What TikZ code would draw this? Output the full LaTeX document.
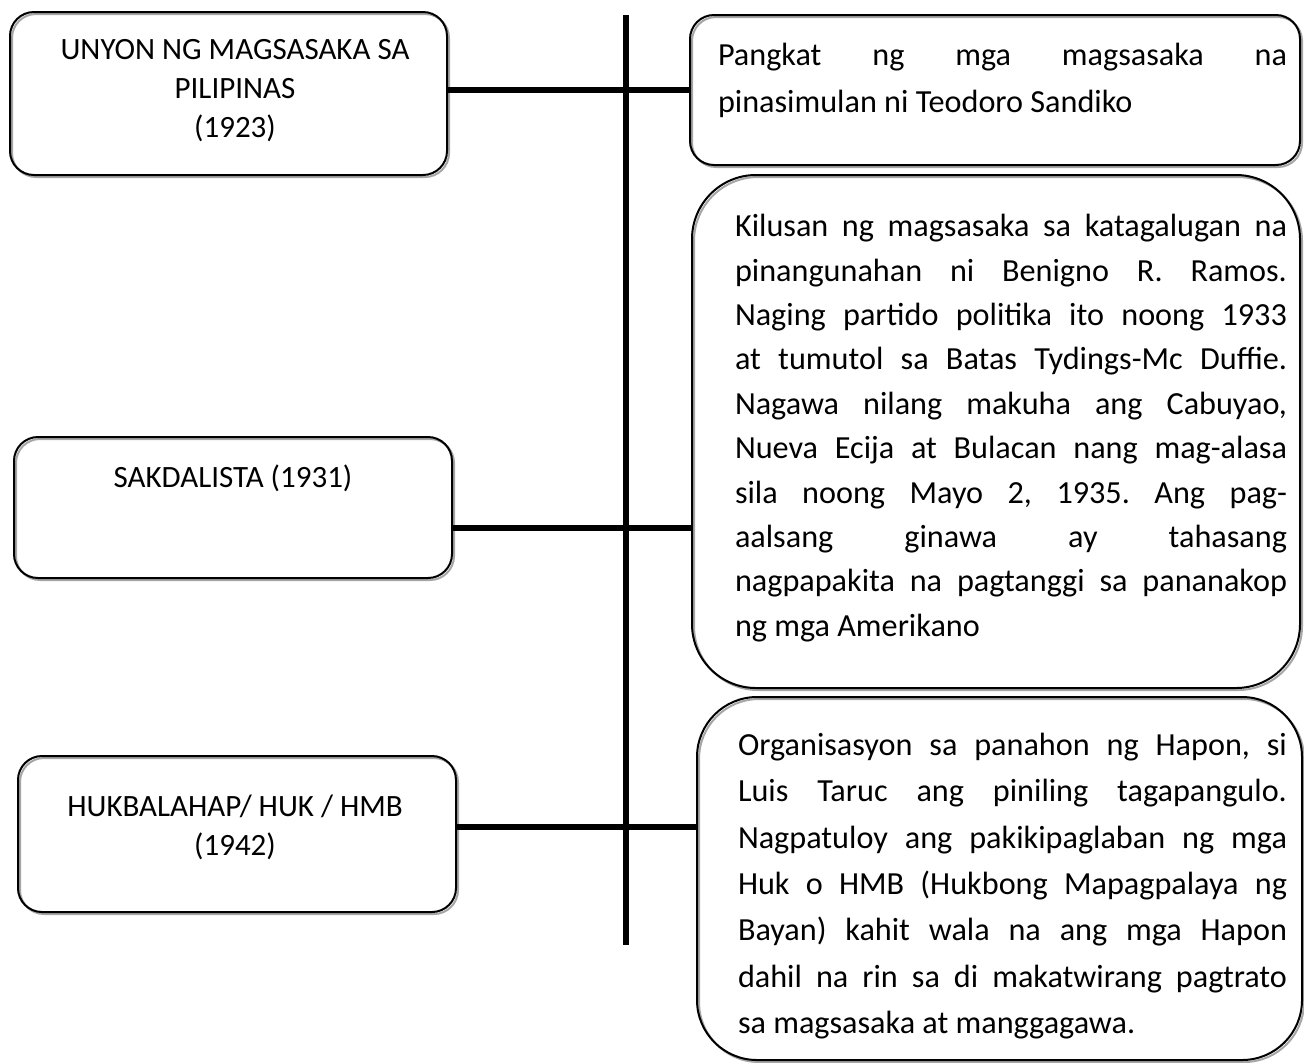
\documentclass[tikz,border=0pt]{standalone}
\usepackage{fontspec}
\setmainfont{Carlito}
\usetikzlibrary{shadows, positioning}

\begin{document}
\frenchspacing
\begin{tikzpicture}[x=0.5pt,y=-0.5pt,
		event/.style={draw, line width=1pt, rounded corners=12pt, minimum width=#1, inner sep=0pt,
			drop shadow={shadow xshift=1pt, shadow yshift=-1pt, fill=none, draw=black!35, line width=1pt, opacity=1}},
		head/.style={inner sep=0pt, align=center, font=\fontsize{15.5}{19.5}\selectfont},
		desc/.style={inner sep=0pt, align=justify, text width=#1, font=\fontsize{16.1}{23.2}\selectfont},
		link/.style={line width=3pt}]
			\useasboundingbox (0,0) rectangle (1304,1062);
			% left boxes
			\node[event=218.5pt, minimum height=81.5pt] (unyon) at (228.5,93.5) {};
			\node[event=219pt, minimum height=70.5pt] (sakdal) at (233,507.5) {};
			\node[event=219pt, minimum height=78pt] (huk) at (237,834) {};
			\node[head] (unyon-t) at (235,91) {UNYON NG MAGSASAKA SA\\PILIPINAS\\(1923)};
			\node[head] (sakdal-t) at (233,478) {SAKDALISTA (1931)};
			\node[head] (huk-t) at (235,827) {HUKBALAHAP/ HUK / HMB\\(1942)};
			% right boxes
			\node[event=305pt, minimum height=75pt] (d1) at (995,90) {};
			\node[event=304pt, minimum height=256.5pt, rounded corners=32pt] (d2) at (996,431.5) {};
			\node[event=302.5pt, minimum height=181.5pt, rounded corners=30pt] (d3) at (999.5,878.5) {};
			\node[desc=284.5pt, font=\fontsize{16.1}{23.5}\selectfont] (d1-t) at (1002.5,80)
				{Pangkat ng mga magsasaka na\linebreak pinasimulan ni Teodoro Sandiko};
			\node[desc=276pt, font=\fontsize{16.1}{22.2}\selectfont] (d2-t) at (1011,428)
				{Kilusan ng magsasaka sa katagalugan na\linebreak
				pinangunahan ni Benigno R. Ramos.\linebreak
				Naging partido politika ito noong 1933\linebreak
				at tumutol sa Batas Tydings-Mc Duffie.\linebreak
				Nagawa nilang makuha ang Cabuyao,\linebreak
				Nueva Ecija at Bulacan nang mag-alasa\linebreak
				sila noong Mayo 2, 1935. Ang pag-\linebreak
				aalsang ginawa ay tahasang\linebreak
				nagpapakita na pagtanggi sa pananakop\linebreak
				ng mga Amerikano};
			\node[desc=274.5pt] (d3-t) at (1012.5,886)
				{Organisasyon sa panahon ng Hapon, si\linebreak
				Luis Taruc ang piniling tagapangulo.\linebreak
				Nagpatuloy ang pakikipaglaban ng mga\linebreak
				Huk o HMB (Hukbong Mapagpalaya ng\linebreak
				Bayan) kahit wala na ang mga Hapon\linebreak
				dahil na rin sa di makatwirang pagtrato\linebreak
				sa magsasaka at manggagawa.};
			% time line
			\coordinate (top) at (626,15);
			\coordinate (bot) at (626,945);
			\draw[link] (top) -- (bot);
			\coordinate (s1) at (626,90);
			\coordinate (s2) at (626,528);
			\coordinate (s3) at (626,827);
			\draw[link] (s1 -| unyon.east) -- (s1 -| d1.west);
			\draw[link] (s2 -| sakdal.east) -- (s2 -| d2.west);
			\draw[link] (s3 -| huk.east) -- (s3 -| d3.west);
		\end{tikzpicture}
\end{document}
